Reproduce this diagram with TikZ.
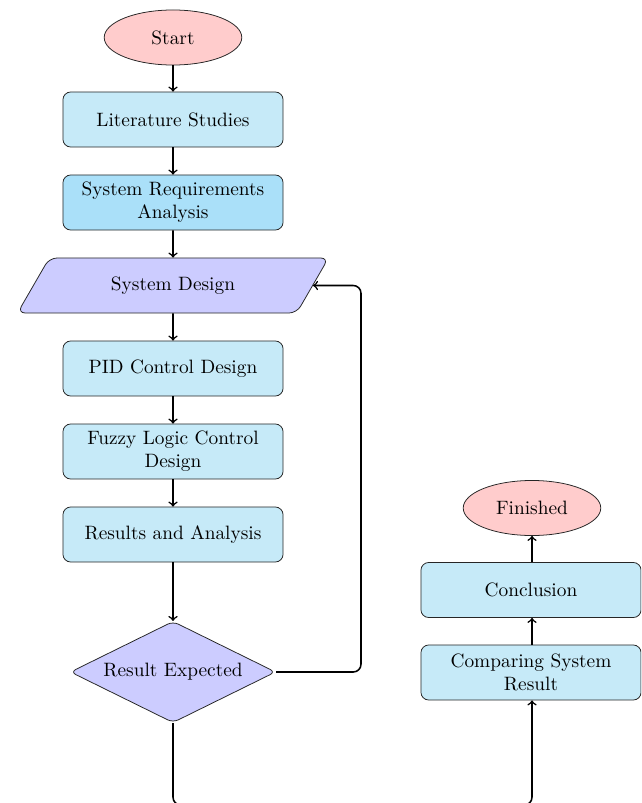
\documentclass[tikz,border=0pt]{standalone}
\usetikzlibrary{shapes.geometric,arrows}
\definecolor{boxblue}{RGB}{198,234,248}
\definecolor{boxbluedark}{RGB}{170,224,249}
\definecolor{violetfill}{RGB}{204,204,255}
\definecolor{pinkfill}{RGB}{255,204,204}
\tikzset{
  startstop/.style={ellipse, draw=black!85, fill=pinkfill, minimum width=2.5cm, minimum height=1cm, align=center},
  procbox/.style={rectangle, rounded corners=4pt, draw=black!85, fill=boxblue, minimum width=4cm, minimum height=1cm, align=center},
  iobox/.style={trapezium, trapezium left angle=60, trapezium right angle=120, trapezium stretches=true, rounded corners=4pt, draw=black!85, fill=violetfill, minimum width=5.67cm, minimum height=1cm, align=center},
  decision/.style={diamond, aspect=2, inner sep=0pt, rounded corners=3pt, draw=black!85, fill=violetfill, minimum width=3.73cm, minimum height=1.84cm, align=center},
  conn/.style={->, thick, rounded corners=4pt}
}
\begin{document}
\begin{tikzpicture}[x=0.01818cm, y=-0.01818cm]
\useasboundingbox (0,0) rectangle (641,803);
\clip (0,0) rectangle (641,803);
\node[startstop] (start) at (173,37.5) {Start};
\node[procbox] (lit) at (173,119.5) {Literature Studies};
\node[procbox, fill=boxbluedark] (req) at (173,202.5) {System Requirements\\Analysis};
\node[iobox] (design) at (173,285.5) {System Design};
\node[procbox] (pid) at (173,368.5) {PID Control Design};
\node[procbox] (fuzzy) at (173,451.5) {Fuzzy Logic Control\\Design};
\node[procbox] (res) at (173,534.5) {Results and Analysis};
\node[decision] (dec) at (173,672) {Result Expected};
\node[startstop] (fin) at (532,508) {Finished};
\node[procbox] (concl) at (531,590) {Conclusion};
\node[procbox] (comp) at (531,672.5) {Comparing System\\Result};
\coordinate (loopA) at (361,672);
\coordinate (loopB) at (361,285.5);
\coordinate (botA) at (173,805);
\coordinate (botB) at (532,805);
\draw[conn] (start) -- (lit);
\draw[conn] (lit) -- (req);
\draw[conn] (req) -- (design);
\draw[conn] (design) -- (pid);
\draw[conn] (pid) -- (fuzzy);
\draw[conn] (fuzzy) -- (res);
\draw[conn] (res) -- (dec);
\draw[conn] (dec.east) -- (loopA) -- (loopB) -- (design.east);
\draw[conn] (dec.south) -- (botA) -- (botB) -- (comp.south -| botB);
\draw[conn] (comp.north -| fin.south) -- (concl.south -| fin.south);
\draw[conn] (concl.north -| fin.south) -- (fin.south);
\end{tikzpicture}
\end{document}
